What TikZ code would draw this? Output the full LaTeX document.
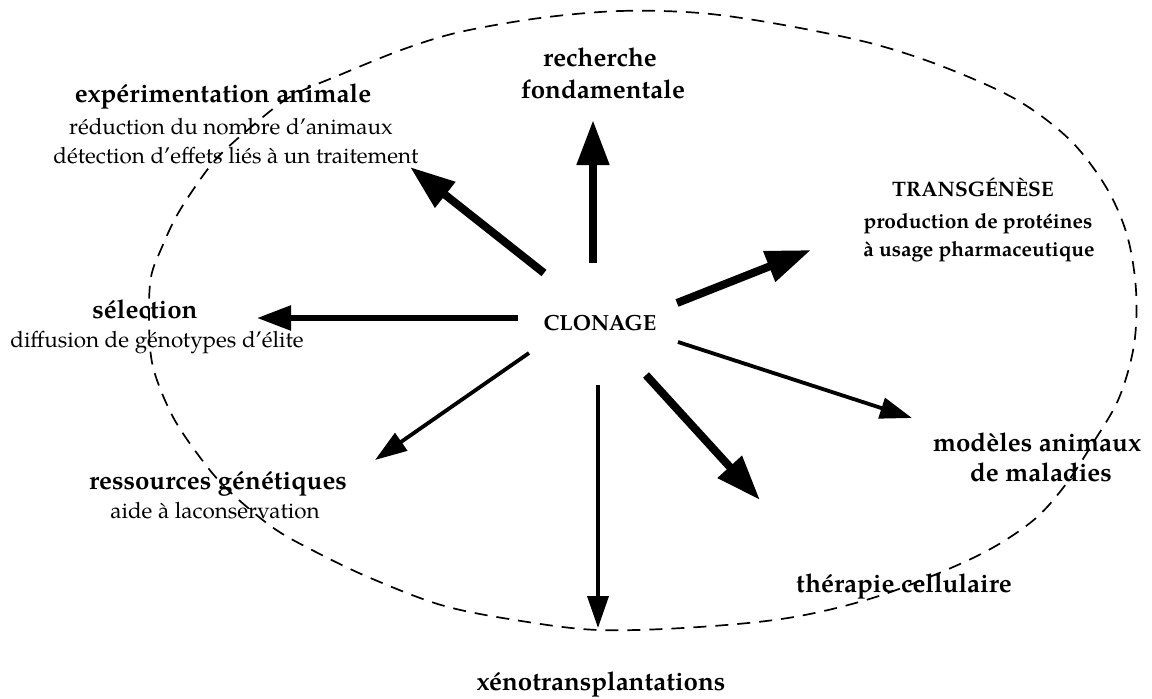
\documentclass[tikz,border=0pt]{standalone}
\usepackage{fontspec}
\setmainfont{TeX Gyre Pagella}
\usetikzlibrary{arrows.meta}
\begin{document}
\begin{tikzpicture}[x=1bp,y=-1bp,
  title/.style={font=\fontsize{26}{30}\selectfont\bfseries, inner sep=0, anchor=base},
  sub/.style={font=\fontsize{22.5}{26}\selectfont, inner sep=0, anchor=base},
  subb/.style={font=\fontsize{21}{25}\selectfont\bfseries, inner sep=0, anchor=base},
  core/.style={font=\fontsize{22}{26}\selectfont\bfseries, inner sep=0, anchor=base},
  bigarrow/.style={line width=8bp, -{Triangle[length=45bp,width=31bp]}},
  midarrow/.style={line width=5.5bp, -{Triangle[length=34bp,width=24bp]}},
  thinarrow/.style={line width=3.8bp, -{Triangle[length=32bp,width=21bp]}},
  ring/.style={dash pattern=on 13bp off 9bp, line width=1.7bp}]
\useasboundingbox (0,0) rectangle (1152,699);
\draw[ring] plot[smooth cycle, tension=0.55] coordinates {
  (540,18) (620,11) (700,13) (778,24) (870,43) (944,67) (1017,100)
  (1070,140) (1106,187) (1127,235) (1136,290) (1134,345) (1119,398)
  (1093,443) (1063,488) (1030,523) (975,557) (882,595) (794,617)
  (699,627) (598,630) (515,620) (441,605) (368,577) (312,550)
  (272,527) (228,490) (202,460) (173,417) (153,367) (149,320)
  (151,277) (162,247) (176,217) (195,187) (217,158) (250,128)
  (290,97) (342,74) (404,49) (460,32)};

\node[core] (clon) at (600,330) {CLONAGE};

\node[title] (rech1) at (600,67) {recherche};
\node[title] (rech2) at (603,99) {fondamentale};

\node[title] (exp1) at (223,103) {expérimentation animale};
\node[sub] (exp2) at (231,135) {réduction du nombre d’animaux};
\node[sub] (exp3) at (236,164) {détection d’effets liés à un traitement};

\node[subb] (tra1) at (973,197) {TRANSGÉNÈSE};
\node[subb] (tra2) at (978,229) {production de protéines};
\node[subb] (tra3) at (979,256) {à usage pharmaceutique};

\node[title] (sel1) at (145,318) {sélection};
\node[sub] (sel2) at (157,347) {diffusion de génotypes d’élite};

\node[title] (res1) at (218,489) {ressources génétiques};
\node[sub] (res2) at (215,518) {aide à laconservation};

\node[title] (xen) at (601,690) {xénotransplantations};

\node[title] (the) at (904,592) {thérapie cellulaire};

\node[title] (mod1) at (1037,451) {modèles animaux};
\node[title] (mod2) at (1041,481) {de maladies};

\coordinate (tUp) at (593,263);   \coordinate (hUp) at (593,120);
\coordinate (tExp) at (544,273);  \coordinate (hExp) at (410,167);
\coordinate (tTra) at (677,303);  \coordinate (hTra) at (811,250);
\coordinate (tSel) at (518,318);  \coordinate (hSel) at (257,318);
\coordinate (tRes) at (529,353);  \coordinate (hRes) at (375,460);
\coordinate (tXen) at (598,385);  \coordinate (hXen) at (598,628);
\coordinate (tThe) at (646,375);  \coordinate (hThe) at (760,500);
\coordinate (tMod) at (678,342);  \coordinate (hMod) at (912,418);

\draw[bigarrow] (tUp) -- (hUp);
\draw[bigarrow] (tExp) -- (hExp);
\draw[bigarrow] (tTra) -- (hTra);
\draw[midarrow] (tSel) -- (hSel);
\draw[thinarrow] (tRes) -- (hRes);
\draw[thinarrow] (tXen) -- (hXen);
\draw[bigarrow] (tThe) -- (hThe);
\draw[thinarrow] (tMod) -- (hMod);
\end{tikzpicture}
\end{document}
